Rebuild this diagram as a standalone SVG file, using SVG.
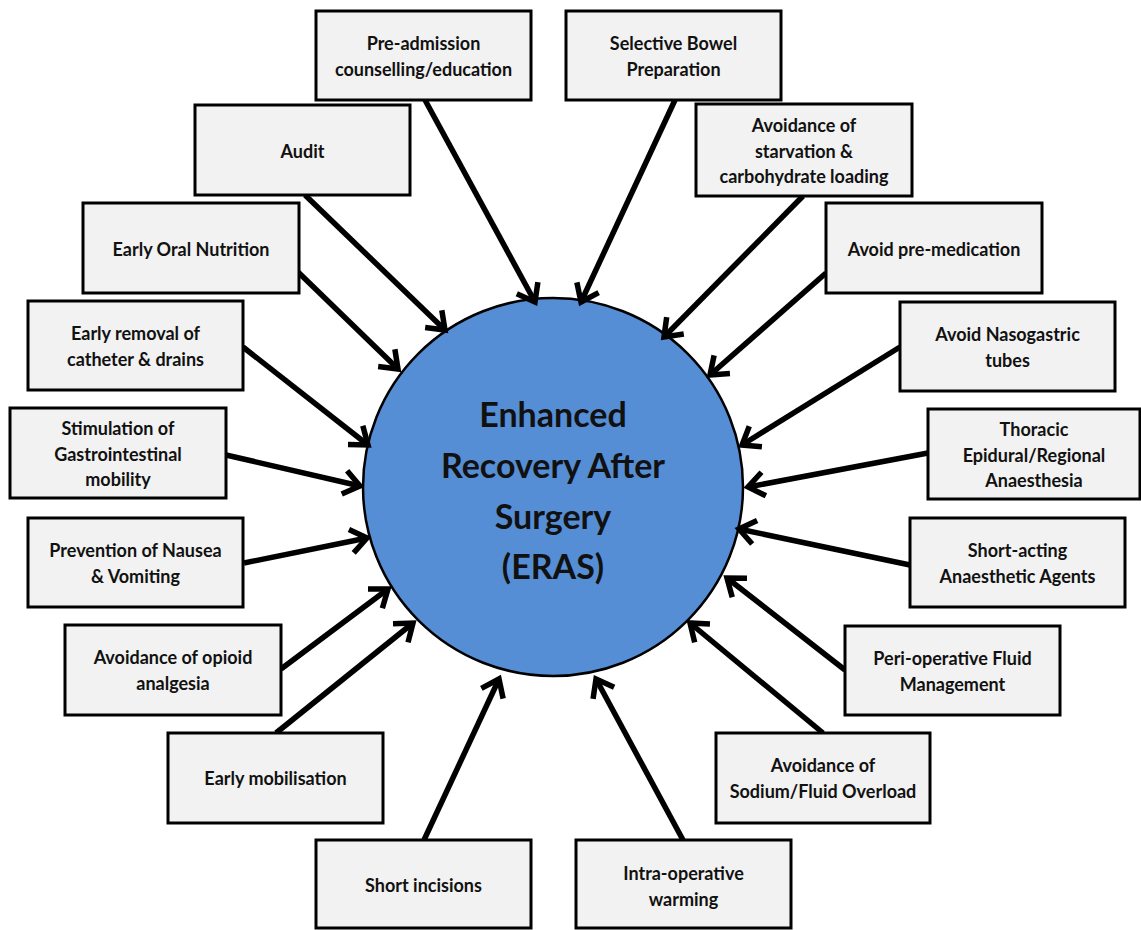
<svg xmlns="http://www.w3.org/2000/svg" width="1141" height="930" viewBox="0 0 1141 930">
<style>
.box rect{fill:#f2f2f2;stroke:#000;stroke-width:3}
.box text,.hub text{font-family:Lato,"Open Sans","Liberation Sans",sans-serif;font-weight:bold;fill:#111;text-anchor:middle}
.box text{font-size:18px}
.hub text{font-size:34px}
.hub ellipse{fill:#558ed5;stroke:#000;stroke-width:2.5}
#connectors line{stroke:#000;stroke-width:5.5;marker-end:url(#vh)}
</style>
<defs>
<marker id="vh" markerUnits="userSpaceOnUse" viewBox="-20 -15 24 30" markerWidth="24" markerHeight="30" refX="0" refY="0" orient="auto" overflow="visible">
<path d="M-16,-12 L0,0 L-16,12" fill="none" stroke="#000" stroke-width="5.5" stroke-linejoin="miter" stroke-linecap="butt"/>
</marker>
</defs>
<rect width="1141" height="930" fill="#fff"/>
<g id="hub" class="hub">
<ellipse cx="553" cy="487" rx="190" ry="189"/>
<text x="553" y="427">Enhanced</text>
<text x="553" y="478">Recovery After</text>
<text x="553" y="529">Surgery</text>
<text x="553" y="579">(ERAS)</text>
</g>
<g id="connectors">
<line x1="425" y1="100" x2="535" y2="302"/>
<line x1="675" y1="100" x2="581" y2="302"/>
<line x1="803" y1="196" x2="664" y2="337"/>
<line x1="826" y1="273" x2="710" y2="375"/>
<line x1="900" y1="347" x2="742" y2="445"/>
<line x1="928" y1="453" x2="748" y2="487"/>
<line x1="910" y1="565" x2="739" y2="529"/>
<line x1="845" y1="670" x2="727" y2="578"/>
<line x1="823" y1="733" x2="690" y2="623"/>
<line x1="683" y1="840" x2="596" y2="679"/>
<line x1="424" y1="840" x2="499" y2="679"/>
<line x1="276" y1="733" x2="413" y2="623"/>
<line x1="281" y1="669" x2="388" y2="589"/>
<line x1="244" y1="563" x2="367" y2="538"/>
<line x1="226" y1="455" x2="360" y2="486"/>
<line x1="243" y1="347" x2="368" y2="445"/>
<line x1="298" y1="272" x2="398" y2="369"/>
<line x1="305" y1="195" x2="445" y2="330"/>
</g>
<g id="n-preadmission" class="box"><rect x="316" y="11" width="215" height="89"/><text x="423.5" y="50">Pre-admission</text><text x="423.5" y="75.5">counselling/education</text></g>
<g id="n-bowel" class="box"><rect x="566" y="11" width="215" height="89"/><text x="673.5" y="50">Selective Bowel</text><text x="673.5" y="75.5">Preparation</text></g>
<g id="n-starvation" class="box"><rect x="696" y="104" width="216" height="92"/><text x="804" y="132">Avoidance of</text><text x="804" y="157.5">starvation &amp;</text><text x="804" y="183">carbohydrate loading</text></g>
<g id="n-premed" class="box"><rect x="826" y="203" width="216" height="90"/><text x="934" y="256">Avoid pre-medication</text></g>
<g id="n-nasogastric" class="box"><rect x="900" y="302" width="215" height="89"/><text x="1007.5" y="341">Avoid Nasogastric</text><text x="1007.5" y="366.5">tubes</text></g>
<g id="n-thoracic" class="box"><rect x="928" y="409" width="212" height="90"/><text x="1034" y="436">Thoracic</text><text x="1034" y="461.5">Epidural/Regional</text><text x="1034" y="487">Anaesthesia</text></g>
<g id="n-shortacting" class="box"><rect x="910" y="518" width="215" height="89"/><text x="1017.5" y="557">Short-acting</text><text x="1017.5" y="582.5">Anaesthetic Agents</text></g>
<g id="n-fluid" class="box"><rect x="845" y="626" width="215" height="89"/><text x="952.5" y="665">Peri-operative Fluid</text><text x="952.5" y="690.5">Management</text></g>
<g id="n-sodium" class="box"><rect x="716" y="733" width="214" height="90"/><text x="823" y="772">Avoidance of</text><text x="823" y="797.5">Sodium/Fluid Overload</text></g>
<g id="n-warming" class="box"><rect x="576" y="840" width="215" height="88"/><text x="683.5" y="880">Intra-operative</text><text x="683.5" y="905.5">warming</text></g>
<g id="n-incisions" class="box"><rect x="316" y="840" width="215" height="88"/><text x="423.5" y="892">Short incisions</text></g>
<g id="n-mobilisation" class="box"><rect x="168" y="733" width="215" height="90"/><text x="275.5" y="785">Early mobilisation</text></g>
<g id="n-opioid" class="box"><rect x="65" y="625" width="216" height="90"/><text x="173" y="664">Avoidance of opioid</text><text x="173" y="689.5">analgesia</text></g>
<g id="n-nausea" class="box"><rect x="28" y="518" width="215" height="89"/><text x="135.5" y="557">Prevention of Nausea</text><text x="135.5" y="582.5">&amp; Vomiting</text></g>
<g id="n-stimulation" class="box"><rect x="10" y="408" width="216" height="90"/><text x="118" y="435">Stimulation of</text><text x="118" y="460.5">Gastrointestinal</text><text x="118" y="486">mobility</text></g>
<g id="n-catheter" class="box"><rect x="28" y="301" width="215" height="89"/><text x="135.5" y="340">Early removal of</text><text x="135.5" y="365.5">catheter &amp; drains</text></g>
<g id="n-oral" class="box"><rect x="83" y="203" width="216" height="90"/><text x="191" y="256">Early Oral Nutrition</text></g>
<g id="n-audit" class="box"><rect x="195" y="105" width="215" height="90"/><text x="302.5" y="158">Audit</text></g>
</svg>
